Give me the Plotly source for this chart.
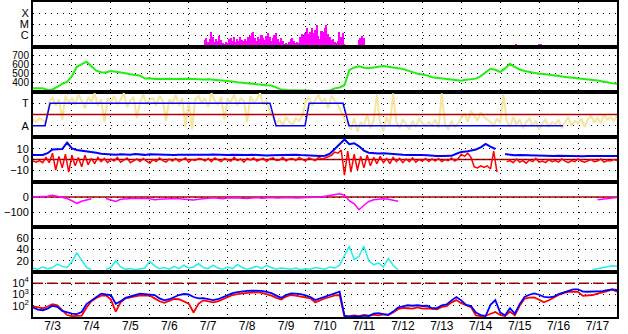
import pandas as pd
import plotly.graph_objects as go
from plotly.subplots import make_subplots

start = pd.Timestamp("2012-07-03 00:00")
end = pd.Timestamp("2012-07-18 00:00")
t3 = pd.date_range(start, periods=121, freq="3h")   # 3-hourly time index
t2 = pd.date_range(start, periods=181, freq="2h")   # 2-hourly time index

# ---- Panel 1: GOES X-ray flux (W/m^2), hourly ----
xray_hours = list(range(106, 193)) + [201, 202, 203, 204, 298, 299, 312, 313]
xray_flux = [
    3.5e-7, 5e-7, 2.5e-7, 4e-7, 1.8e-6, 6e-7, 2.5e-7, 4.5e-7, 3e-7, 8e-7,
    3.5e-7, 2e-7, 1.5e-7, 2.5e-7, 1.8e-7, 4e-7, 5.5e-7, 3e-7, 6e-7, 2.5e-7,
    4e-7, 3e-7, 7e-7, 3.5e-7, 2.8e-7, 4.5e-7, 3e-7, 6e-7, 9e-7, 1.6e-6,
    1.8e-6, 5e-7, 3e-7, 7e-7, 4e-7, 1e-6, 5e-7, 3.5e-7, 8e-7, 1.6e-6,
    6e-7, 3e-7, 5e-7, 1e-6, 1.5e-6, 4e-7, 2.5e-7, 5.5e-7, 3e-7, 1.5e-7,
    2e-7, 1.4e-7, 2.5e-7, 4e-7, 5e-7, 3e-7, 2e-7, 2.5e-7, 1.8e-7, 6e-7,
    1.2e-6, 8e-7, 1.5e-6, 4.3e-6, 1.2e-6, 2e-6, 4.5e-6, 1.5e-6, 3e-6, 7.5e-6,
    8e-7, 4e-7, 2.5e-6, 1.8e-6, 4e-6, 8e-6, 1.2e-6, 6e-7, 3.5e-7, 4.5e-7,
    2.5e-7, 1.8e-7, 3e-7, 1.8e-6, 6e-7, 1.5e-6, 1.6e-7,
    3.5e-7, 5e-7, 9e-7, 5e-7, 1.4e-7, 1.3e-7, 1.4e-7, 1.5e-7,
]
xray_times = [start + pd.Timedelta(hours=h) for h in xray_hours]

# ---- Panel 2: solar wind speed (km/s), 3-hourly ----
speed = [
    335, 333, 336, 318, 322, 352, 385, 405, 470, 572,
    600, 628, 578, 530, 513, 510, 525, 520, 512, 502,
    490, 483, 475, 443, 445, 437, 440, 436, 440, 438,
    440, 442, 440, 437, 433, 432, 436, 432, 428, 424,
    416, 410, 402, 396, 386, 380, 376, 373, 370, 366,
    342, 322, 318, 318, 312, 310, 312, 310, 306, 305,
    308, 312, 335, 345, 370, 535, 565, 578, 562, 556,
    562, 575, 582, 572, 565, 560, 548, 530, 512, 496,
    488, 478, 458, 452, 446, 440, 434, 426, 420, 430,
    437, 442, 470, 515, 550, 540, 515, 555, 605, 570,
    543, 526, 515, 503, 497, 492, 488, 482, 472, 462,
    455, 450, 445, 440, 435, 428, 422, 410, 400, 392,
    385,
]

# ---- Panel 3: IMF phi angle (deg), 2-hourly, and sector polarity ----
phi = [
    140, 120, 150, 130, 115,
    280, 320, 250, 300, 140, 330, 270, 310,
    260, 340, 290, 230, 320, 280, 350, 250, 300, 120, 310, 270,
    330, 260, 300, 350, 240, 290, 320, 150, 280, 340, 260, 300,
    310, 250, 330, 290, 130, 300, 270, 340, 250, 310, 80, 290,
    60, 300, 330, 270, 310, 240, 350, 290, 260, 320, 140, 300,
    280, 340, 250, 310, 290, 120, 330, 270, 300, 350, 260, 290,
    200, 150,
    110, 140, 90, 160, 120, 100, 150, 130, 170,
    280, 320, 250, 300, 340, 270, 310, 230, 330, 290, 260,
    200, 140,
    100, 60, 150, 40, 120, 90, 180, 70, 130, 340, 110, 50, 160,
    90, 350, 120, 70, 140, 100, 60, 130, 80, 150, 110, 90,
    120, 90, 140, 70, 350, 100, 60, 130, 80, 110,
    150, 190, 120, 210, 170, 130, 200, 160, 140,
    120, 90, 150, 110, 340, 130, 80, 160, 100, 140,
    70, 120, 150, 90, 130, 60, 110, 140, 80, 120,
    100, 140, 70, 120, 160, 90, 130, 110, 150, 80,
    140, 170, 120, 150, 110, 180, 140, 160, 130, 170,
]
sector_times = ["2012-07-03 00:00", "2012-07-03 07:24", "2012-07-03 10:30",
                "2012-07-09 02:06", "2012-07-09 05:48", "2012-07-09 23:42",
                "2012-07-10 02:12", "2012-07-10 23:06", "2012-07-11 02:48",
                "2012-07-16 14:42"]
sector_vals = [90, 90, 270, 270, 90, 90, 270, 270, 90, 90]

# ---- Panel 4: IMF Bt (3-hourly) and Bz (2-hourly), nT ----
bt = [
    4.3, 4.5, 4.3, 6, 9.5, 9.8, 10, 16, 10.5, 9,
    8.5, 7.5, 7, 6.5, 5.5, 5, 5, 4.5, 5, 4.8,
    4.5, 5.2, 4.6, 4.4, 5, 4.8, 4.5, 4.6, 4.8, 4.3,
    4.5, 4.4, 4.6, 4.2, 4.5, 4.2, 4.6, 4.8, 4.4, 4.1,
    4.3, 4.5, 4.2, 4.0, 4.3, 4.6, 4.2, 4.0, 3.8, 4.1,
    4.3, 4.5, 4.8, 4.4, 4.6, 4.2, 3.8, 3.5, 3.2, 3.3,
    3.6, 5.5, 10, 15, 19, 14.5, 15.5, 12.5, 8.5, 6.5,
    6, 5.8, 6, 5.5, 5.7, 5.2, 4.5, 4.3, 4.5, 4.2,
    4.3, 4.0, 3.4, 3.3, 3.4, 3.2, 3.5, 5.5, 7.2, 7.5,
    8.3, 9.5, 11.6, 14.8, 12.2, 10, None, 5.2, 4.5, 4.0,
    4.2, 4.0, 3.8, 4.0, 3.6, 3.4, 3.5, 3.3, 3.6, 3.4,
    3.3, 3.5, 3.4, 3.2, 3.4, 3.5, 3.3, 3.4, 3.2, 3.3,
    3.4,
]
bz = [
    -1.5, -2.5, -1.0, -3.0,
    2.0, -3.0, 6.0, -10.0, 3.0, -8.0, 5.0, -12.0, 4.0, -6.0, 2.0, -7.0, 4.0, -5.0, 1.0, -4.0, 2.0,
    -2, 1, -3, 0.5, -1.5, 2, -2.5, -0.5, 1.5, -3,
    -1, 0.5, -2, 1, -1.5, -3.5, 0, -2, 1.5, -1,
    -2.5, 0.5, -1.5, 1, -2, -0.5, 1.5, -2.5, 0, -1,
    1,
    0.5, -1.5, 1, -2, 1.5, -0.5, -2, 1, 0, -1.5,
    2, -1, 0.5, -2.5, 1, -0.5, 1.5, -1.5, 0, 1,
    -2, 0.5, 1.5, -1, -0.5, 2, -1.5, 0.5, 1, -1,
    2, 0, -1.5, 1.5, 0.5, -1, 2, 0.5, 1.5, 2.5,
    4, 7, 6, 9, -15, 8, -12, 5, -10, 3, -8,
    4, -6, 2, -4, 3, -3, 1, -4, 2, -2, 1, -3, 0.5, -2, 1.5, -2.5, 0, -1.5, 1, -2,
    0.5, -1.5, 1, -2, 0, -1, 1.5, -1.5, 0.5,
    5, 3, 6, 2, -7, -8, -6, -7.5, -6, -9, 8, -12, None, None,
    -2, -1, -3, 0.5, -2.5, -1, -3.5, -0.5, -2, 1,
    -2.5, -1.5, -3, 0, -2, -1, -2.5, 0.5, -1.5, -3,
    -1, -2, 0.5, -1.5, -2.5, -1, 0, -2, -1.5, 0.5,
    -2.5, -1, -1.5, 0, -1,
]

# ---- Panel 5: Dst (nT), 3-hourly ----
dst = [
    0, 2, 0, 5, 12, 5, -5, -10, -25, -42,
    -28, -22, -12, None, None, -10, -20, -30, -15, -12,
    -10, -8, -10, -8, -12, -18, -15, -12, -8, -10,
    -12, -15, -18, -20, -15, -10, -8, -5, -8, -12,
    -6, -3, -5, -8, -10, -6, -4, -8, -5, -3,
    -6, -4, -5, -4, -6, -5, -3, -4, -2, 0,
    5, 10, 15, 22, 12, -25, -45, -85, -55, -30,
    -18, -14, -12, -15, -22, -28, None, None, None, None,
    None, None, None, None, None, None, None, None, None, None,
    None, None, None, None, None, None, None, None, None, None,
    None, None, None, None, None, None, None, None, None, None,
    None, None, None, None, None, None, -18, -15, -12, -8,
    -4,
]

# ---- Panel 6: 3-hourly index (cyan) ----
cyan_vals = [
    7, 5, 9, 6, 8, 14, 10, 8, 18, 34,
    21, 8, 4, None, None, 5, 8, 20, 9, 5,
    6, 4, 5, 7, 19, 11, 6, 8, 5, 10,
    6, 12, 7, 9, 15, 8, 6, 12, 7, 5,
    9, 6, 13, 8, 5, 7, 10, 6, 12, 8,
    5, 7, 6, 5, 7, 4, 6, 5, 8, 6,
    5, 9, 7, 12, 30, 46, 22, 28, 46, 20,
    13, 16, 9, 24, 12, 4, None, None, None, None,
    None, None, None, None, None, None, None, None, None, None,
    None, None, None, None, None, None, None, None, None, None,
    None, None, None, None, None, None, None, None, None, None,
    None, None, None, None, None, 4, 6, 7, 9, 11,
    10,
]

# ---- Panel 7: electron flux, two channels, 3-hourly ----
elec_red = [
    90, 70, 60, 85, 140, 110, 40, 15, 12, 12,
    13, 70, 250, 500, 800, 850, 350, 30, 200, 450,
    550, 700, 850, 800, 800, 450, 250, 180, 250, 400,
    380, 250, 150, 25, 150, 300, 250, 200, 250, 380,
    600, 900, 1100, 1300, 1400, 1500, 1600, 1400, 1100, 800,
    500, 350, 650, 900, 800, 650, 550, 450, 200, 310,
    460, 600, 850, 900, 11, 12, 14, 12, 15, 13,
    16, 14, 17, 15, 25, 50, 65, 60, 55, 70,
    55, 60, 50, 48, 80, 90, 200, 320, 170, 110,
    75, 14, 12, 13, 18, 28, 15, 12, 30, 14,
    100, 420, 520, 560, 340, 200, 310, 560, 900, 1300,
    1700, 1780, 1700, 750, 850, 900, 1200, 1450, 2000, 2800,
    1800,
]
elec_blue = [
    70, 45, 40, 55, 100, 80, 35, 25, 20, 18,
    28, 140, 300, 650, 1200, 1000, 900, 150, 250, 500,
    700, 1000, 1200, 1100, 1000, 900, 450, 300, 380, 600,
    900, 1100, 1000, 600, 450, 480, 400, 320, 380, 600,
    900, 1300, 1600, 1900, 2100, 2200, 2300, 2100, 1700, 1300,
    800, 500, 900, 1250, 1200, 1100, 850, 600, 320, 460,
    640, 880, 1250, 1750, 13, 11, 12, 11, 13, 12,
    20, 22, 18, 16, 30, 70, 90, 110, 100, 110,
    95, 100, 60, 62, 110, 130, 300, 600, 300, 120,
    95, 25, 15, 12, 120, 320, 25, 14, 60, 20,
    140, 600, 950, 1250, 950, 620, 560, 640, 1100, 1500,
    1800, 2800, 2900, 1800, 1750, 1800, 1800, 2000, 2500, 2900,
    2500,
]

DARKRED = "#B00000"
GRID_DASH = "1px,5px"

fig = make_subplots(rows=7, cols=1, shared_xaxes=True, vertical_spacing=0)

fig.add_trace(go.Bar(x=xray_times, y=xray_flux, width=3600000,
                     marker=dict(color="#FF00FF", line=dict(width=0))), row=1, col=1)
fig.add_trace(go.Scatter(x=t3, y=speed, mode="lines",
                         line=dict(color="#22EE11", width=2)), row=2, col=1)
fig.add_trace(go.Scatter(x=t2, y=phi, mode="lines",
                         line=dict(color="#F8E49A", width=2)), row=3, col=1)
fig.add_trace(go.Scatter(x=sector_times, y=sector_vals, mode="lines",
                         line=dict(color="#0000FF", width=1.5)), row=3, col=1)
fig.add_trace(go.Scatter(x=t3, y=bt, mode="lines",
                         line=dict(color="#0000FF", width=2)), row=4, col=1)
fig.add_trace(go.Scatter(x=t2, y=bz, mode="lines",
                         line=dict(color="#FF0000", width=1.5)), row=4, col=1)
fig.add_trace(go.Scatter(x=t3, y=dst, mode="lines",
                         line=dict(color="#FF00FF", width=1.5)), row=5, col=1)
fig.add_trace(go.Scatter(x=t3, y=cyan_vals, mode="lines",
                         line=dict(color="#22EEEE", width=1.5)), row=6, col=1)
fig.add_trace(go.Scatter(x=t3, y=elec_red, mode="lines",
                         line=dict(color="#FF0000", width=1.8)), row=7, col=1)
fig.add_trace(go.Scatter(x=t3, y=elec_blue, mode="lines",
                         line=dict(color="#0000FF", width=1.8)), row=7, col=1)

fig.add_hline(y=180, line=dict(color=DARKRED, width=1.5), row=3, col=1)
fig.add_hline(y=0, line=dict(color=DARKRED, width=1.5), layer="below", row=4, col=1)
fig.add_hline(y=0, line=dict(color=DARKRED, width=1.5), layer="below", row=5, col=1)
fig.add_hline(y=10000, line=dict(color=DARKRED, width=1.5, dash="10px,4px"),
              layer="below", row=7, col=1)

fig.update_layout(
    template="none",
    width=628, height=334,
    margin=dict(l=33, r=11, t=2, b=17),
    paper_bgcolor="white", plot_bgcolor="white",
    showlegend=False, bargap=0,
    font=dict(family="Liberation Sans, Arial, sans-serif", size=11, color="black"),
)

fig.update_xaxes(
    range=[start, end], type="date",
    showline=True, linecolor="black", linewidth=2, mirror=True,
    showgrid=True, gridcolor="black", gridwidth=1, griddash=GRID_DASH,
    dtick=86400000, tick0=start, ticks="", ticklabelmode="period",
    tickformat="%-m/%-d", tickfont=dict(size=12, color="black"),
    ticklabelstandoff=-3,
    zeroline=False, automargin=False,
)
fig.update_yaxes(
    showline=True, linecolor="black", linewidth=2, mirror=True,
    showgrid=True, gridcolor="black", gridwidth=1, griddash=GRID_DASH,
    ticks="", zeroline=False, automargin=False,
    tickfont=dict(size=11, color="black"),
)

fig.update_yaxes(type="log", range=[-7.1, -2.97], tickmode="array",
                 tickvals=[1e-6, 1e-5, 1e-4], ticktext=["C", "M", "X"], row=1, col=1)
fig.update_yaxes(range=[295, 790], tickmode="array",
                 tickvals=[400, 500, 600, 700], tickfont=dict(size=10),
                 row=2, col=1)
fig.update_yaxes(range=[0, 360], tickmode="array",
                 tickvals=[90, 270], ticktext=["A", "T"], row=3, col=1)
fig.update_yaxes(range=[-21.4, 21.4], tickmode="array",
                 tickvals=[-10, 0, 10], row=4, col=1)
fig.update_yaxes(range=[-200, 100], tickmode="array",
                 tickvals=[-100, 0], row=5, col=1)
fig.update_yaxes(range=[0, 80], tickmode="array",
                 tickvals=[20, 40, 60], row=6, col=1)
fig.update_yaxes(type="log", range=[1, 5], tickmode="array",
                 tickvals=[100, 1000, 10000],
                 ticktext=["10<sup>2</sup>", "10<sup>3</sup>", "10<sup>4</sup>"],
                 row=7, col=1)

fig.write_html("out.html")
